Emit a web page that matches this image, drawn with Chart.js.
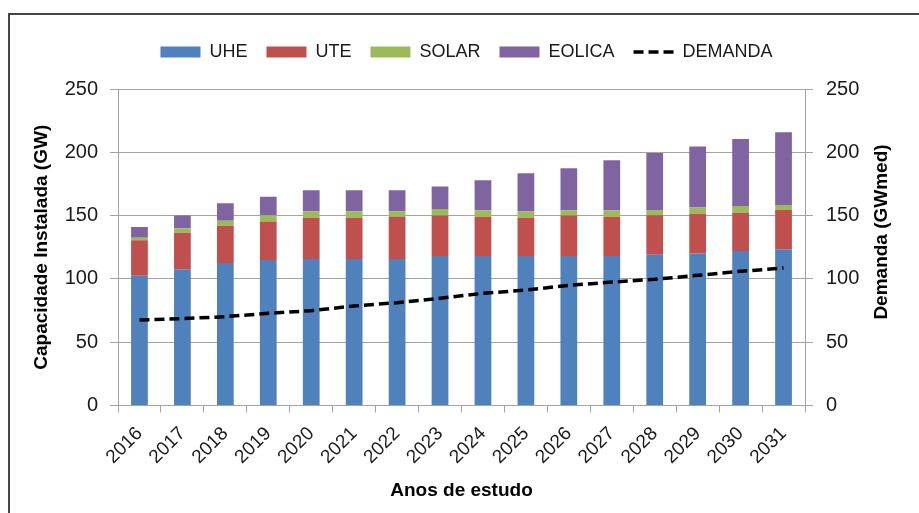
<!DOCTYPE html>
<html>
<head>
<meta charset="utf-8">
<script src="https://cdn.jsdelivr.net/npm/chart.js@4.4.1/dist/chart.umd.min.js"></script>
<style>
  html, body { margin: 0; padding: 0; background: #ffffff; }
  #wrap { position: relative; width: 919px; height: 513px; overflow: hidden; }
  #frame { position: absolute; left: 8px; top: 13px; width: 960px; height: 560px;
           border-top: 2px solid #454545; border-left: 2px solid #454545; }
  #c { position: absolute; left: 0; top: 0; }
</style>
</head>
<body>
<div id="wrap">
  <div id="frame"></div>
  <canvas id="c" width="919" height="513"></canvas>
</div>
<script>
const years = ['2016','2017','2018','2019','2020','2021','2022','2023','2024','2025','2026','2027','2028','2029','2030','2031'];
const uhe    = [102.5, 107.6, 112.6, 115.0, 115.7, 115.7, 115.7, 118.0, 118.0, 118.0, 118.0, 118.0, 119.0, 120.0, 122.0, 123.4];
const ute    = [28.0, 28.9, 29.4, 30.3, 32.7, 32.7, 33.5, 32.0, 31.0, 30.3, 32.0, 31.0, 31.3, 31.4, 30.3, 31.0];
const solar  = [2.0, 3.5, 4.0, 5.0, 5.0, 5.0, 4.2, 5.3, 5.2, 5.0, 4.2, 5.2, 4.2, 4.9, 5.3, 4.0];
const eolica = [8.5, 10.0, 13.7, 14.5, 16.6, 16.6, 16.6, 17.6, 23.7, 30.2, 33.2, 39.5, 45.0, 48.2, 52.9, 57.4];
const demanda = [67.5, 68.6, 70.2, 72.8, 74.9, 78.6, 81.2, 84.7, 88.6, 91.2, 94.9, 97.5, 99.7, 102.8, 106.0, 108.6];
const leftTicks = [0, 50, 100, 150, 200, 250];
const rightTicks = [0, 50, 100, 150, 200, 250];
const leftTitle = 'Capacidade Instalada (GW)';
const rightTitle = 'Demanda (GWmed)';
const xTitle = 'Anos de estudo';

const FONT = "'Liberation Sans', Arial, sans-serif";
Chart.defaults.font.family = FONT;
const GRID = '#a3a3a3';
const TXT = '#1a1a1a';
const DASH = [10, 5];

const rightTitlePlugin = {
  id: 'rightTitle',
  afterLayout(chart) {
    // lift the legend into the empty band above the plot
    const lg = chart.legend;
    if (lg) { lg.top -= 18; lg.bottom -= 18; }
  },
  afterDraw(chart) {
    const ctx = chart.ctx;
    ctx.save();
    ctx.translate(882, 232);
    ctx.rotate(-Math.PI / 2);
    ctx.font = "bold 19px " + FONT;
    ctx.fillStyle = '#000';
    ctx.textAlign = 'center';
    ctx.textBaseline = 'middle';
    ctx.fillText(rightTitle, 0, 0);
    ctx.restore();
  }
};

new Chart(document.getElementById('c'), {
  type: 'bar',
  data: {
    labels: years,
    datasets: [
      { label: 'UHE', data: uhe, backgroundColor: '#4f81bd', yAxisID: 'y', order: 1 },
      { label: 'UTE', data: ute, backgroundColor: '#c0504d', yAxisID: 'y', order: 1 },
      { label: 'SOLAR', data: solar, backgroundColor: '#9bbb59', yAxisID: 'y', order: 1 },
      { label: 'EOLICA', data: eolica, backgroundColor: '#8064a2', yAxisID: 'y', order: 1 },
      { type: 'line', label: 'DEMANDA', data: demanda, borderColor: '#000000', backgroundColor: '#000000',
        borderWidth: 3.5, borderDash: DASH, pointRadius: 0, pointHoverRadius: 0, fill: false,
        tension: 0, yAxisID: 'y2', order: 0 }
    ]
  },
  options: {
    responsive: false,
    animation: false,
    devicePixelRatio: 1,
    datasets: { bar: { categoryPercentage: 1, barPercentage: 0.39 } },
    layout: { padding: { left: 14, top: 24, right: 0, bottom: 0 } },
    plugins: {
      tooltip: { enabled: false },
      legend: {
        position: 'top',
        labels: {
          usePointStyle: true,
          pointStyleWidth: 40,
          boxHeight: 11,
          padding: 19,
          color: TXT,
          font: { size: 18 },
          sort: (a, b) => a.datasetIndex - b.datasetIndex,
          generateLabels(chart) {
            const items = Chart.defaults.plugins.legend.labels.generateLabels(chart);
            items.forEach(it => {
              if (it.datasetIndex === 4) {
                it.pointStyle = 'line';
                it.lineDash = DASH;
                it.lineWidth = 3.5;
                it.strokeStyle = '#000000';
              } else {
                it.pointStyle = 'rect';
                it.lineWidth = 0;
              }
            });
            return items;
          }
        }
      }
    },
    scales: {
      x: {
        stacked: true,
        grid: { display: true, drawOnChartArea: false, drawTicks: true, tickLength: 7, color: GRID, offset: true },
        border: { display: true, color: GRID },
        ticks: { minRotation: 45, maxRotation: 45, color: TXT, font: { size: 19 }, padding: 10 },
        title: { display: true, text: xTitle, color: '#000', font: { size: 19, weight: 'bold' }, padding: { top: 0, bottom: 10.6 } },
        afterFit(s) { s.height = 107.5; }
      },
      y: {
        stacked: true,
        position: 'left',
        min: 0, max: 250,
        afterBuildTicks(s) { s.ticks = leftTicks.map(v => ({ value: v })); },
        grid: { color: GRID, tickLength: 8, drawTicks: true },
        border: { display: true, color: GRID },
        ticks: { color: TXT, font: { size: 20 }, padding: 12 },
        title: { display: true, text: leftTitle, color: '#000', font: { size: 19, weight: 'bold' }, padding: { top: 16.6, bottom: 0 } },
        afterFit(s) { s.width = 104; s.paddingTop = 89; }
      },
      y2: {
        position: 'right',
        min: 0, max: 250,
        afterBuildTicks(s) { s.ticks = rightTicks.map(v => ({ value: v })); },
        grid: { drawOnChartArea: false, tickLength: 8, drawTicks: true, color: GRID },
        border: { display: true, color: GRID },
        ticks: { color: TXT, font: { size: 20 }, padding: 13 },
        afterFit(s) { s.width = 114; s.paddingTop = 89; }
      }
    }
  },
  plugins: [rightTitlePlugin]
});
</script>
</body>
</html>
